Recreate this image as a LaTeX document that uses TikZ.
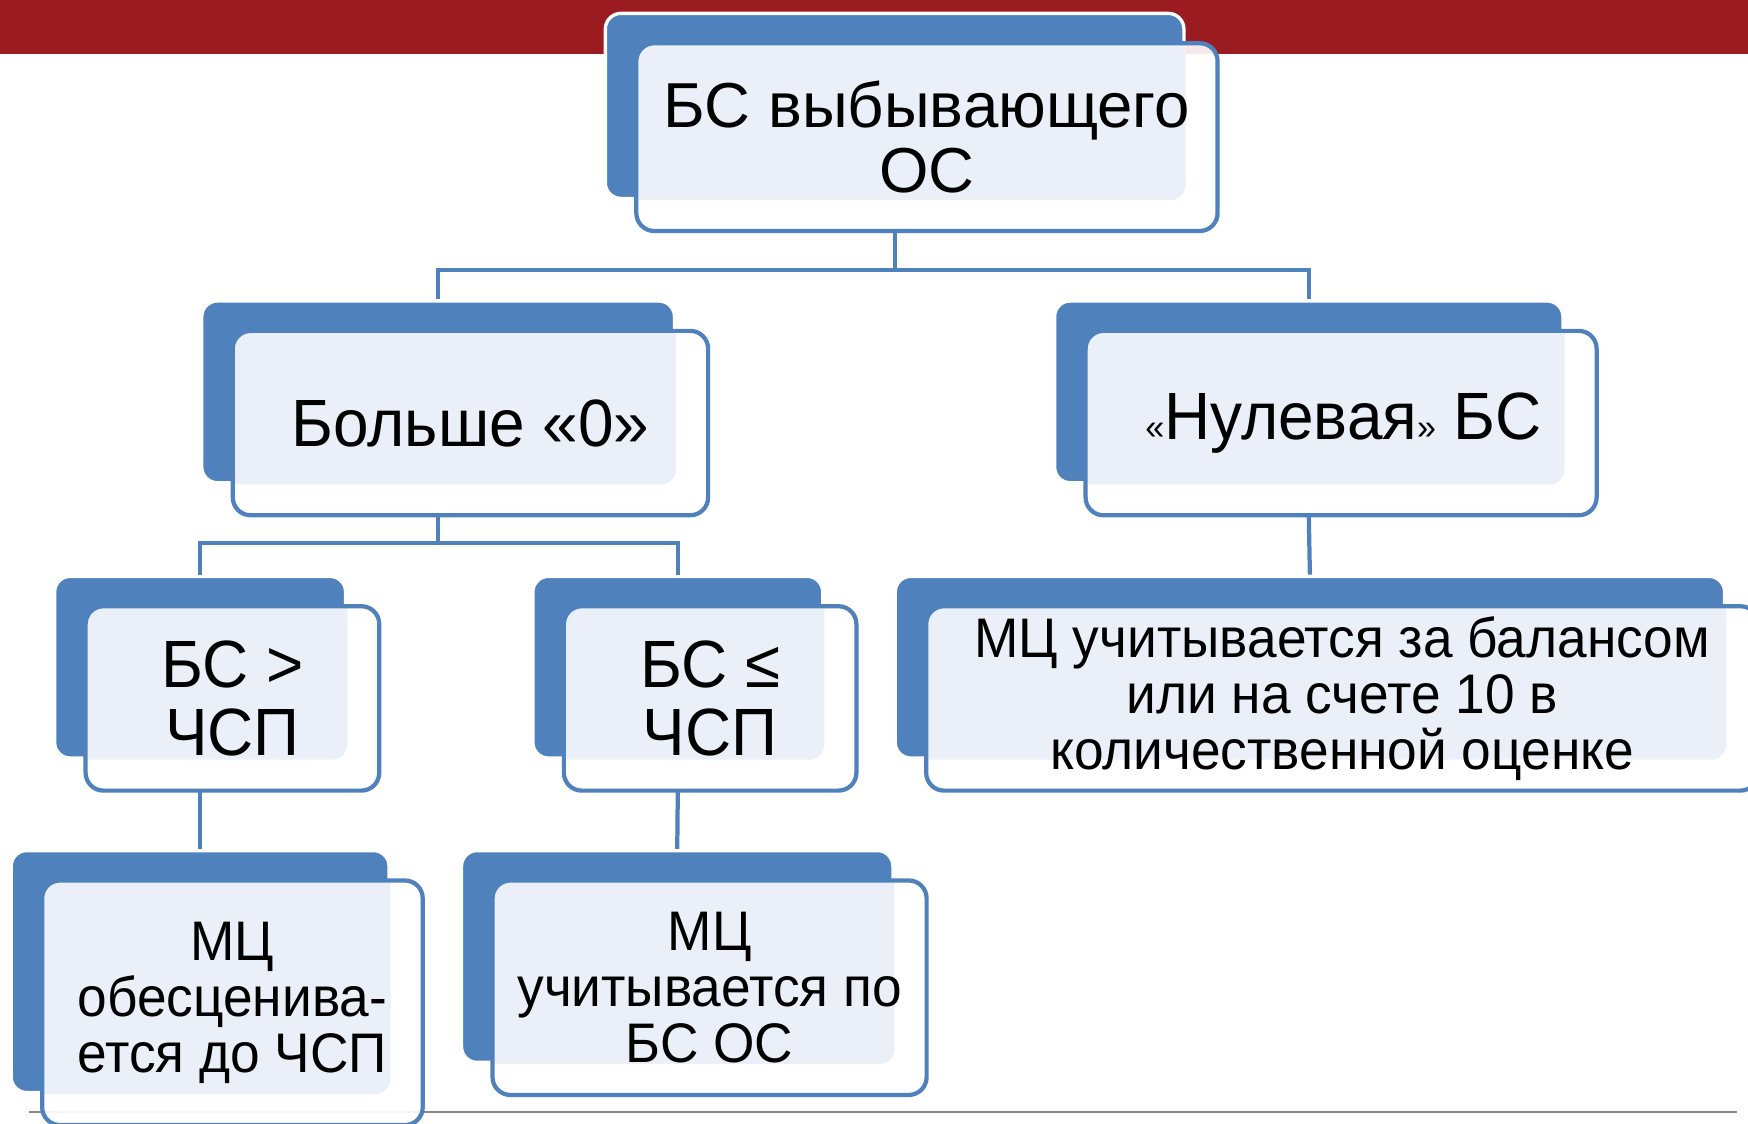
\documentclass[tikz,border=0pt]{standalone}
\usepackage{fontspec}
\setmainfont{Liberation Sans}[FakeStretch=0.955]
\newfontfamily\topfont{Liberation Sans}
\usetikzlibrary{calc}
\definecolor{sblue}{HTML}{4F81BD}
\definecolor{slight}{HTML}{EBF0F8}
\definecolor{sred}{HTML}{9A1C20}
\definecolor{sgray}{HTML}{888888}
\newcommand\smartnode[5]{%
  \node[bluebox, minimum width={#4-#2}, minimum height={#5-#3}] (#1b) at ({(#2+#4)/2},{(#3+#5)/2}) {};
  \node[outbox, minimum width={#4-#2+2}, minimum height={#5-#3+2}] (#1o) at ({(#2+#4)/2+29},{(#3+#5)/2+28}) {};
  \fill[white, fill opacity=0.9, rounded corners=16pt] (#1o.north west) rectangle (#1o.south east);
  \begin{scope}
    \clip[rounded corners=16pt] (#1o.north west) rectangle (#1o.south east);
    \fill[slight, rounded corners=14pt] (#1b.north west) rectangle (#1b.south east);
  \end{scope}
  \draw[sblue, line width=3.8pt, rounded corners=16pt] (#1o.north west) rectangle (#1o.south east);
}
\begin{document}
\begin{tikzpicture}[x=1pt,y=-1pt,
  bluebox/.style={rectangle, rounded corners=14pt, fill=sblue, draw=white, line width=3pt, inner sep=0pt},
  outbox/.style={rectangle, inner sep=0pt},
  conn/.style={draw=sblue, line width=3.8pt},
  lbl/.style={align=center, inner sep=0pt, text=black},
  big/.style={font=\topfont\fontsize{57}{58}\selectfont},
  mid/.style={font=\fontsize{60}{61}\selectfont},
  small/.style={font=\fontsize{50}{50}\selectfont},
]
\useasboundingbox (0,0) rectangle (1568,1008);
\begin{scope}
\clip (0,0) rectangle (1568,1008);
\fill[sred] (0,0) rectangle (1568,48);
\draw[sgray, line width=1.8pt] (26,997.5) -- (1558,997.5);

\smartnode{n1}{543}{12}{1062}{178}
\smartnode{n2}{181}{270}{605}{433}
\smartnode{n3}{946}{270}{1402}{433}
\smartnode{n4}{49}{517}{310}{680}
\smartnode{n5}{478}{517}{738}{680}
\smartnode{n6}{803}{517}{1547}{680}
\smartnode{n7}{10}{763}{349}{980}
\smartnode{n8}{414}{763}{801}{953}

\node[lbl, big] (t1) at (n1o.center) {БС выбывающего\\ОС};
\node[lbl, mid] (t2) at (n2o.center) {Больше «0»};
\node[lbl, mid] (t3) at ([xshift=2pt]n3o.center) {{\fontsize{32}{32}\selectfont«}Нулевая{\fontsize{32}{32}\selectfont»} БС};
\node[lbl, mid] (t4) at (n4o.center) {БС >\\ЧСП};
\node[lbl, mid] (t5) at (n5o.center) {БС ≤\\ЧСП};
\node[lbl, small] (t6) at (n6o.center) {МЦ учитывается за балансом\\или на счете 10 в\\количественной оценке};
\node[lbl, small] (t7) at (n7o.center) {МЦ\\обесценива-\\ется до ЧСП};
\node[lbl, small] (t8) at (n8o.center) {МЦ\\учитывается по\\БС ОС};

\coordinate (j1) at (0,242);
\coordinate (j2) at (0,487);
\draw[conn] (n1b.south |- n1o.south) -- (n1b.south |- j1) -| (n2b.north);
\draw[conn] (n1b.south |- j1) -| (n3b.north);
\draw[conn] (n2b.south |- n2o.south) -- (n2b.south |- j2) -| (n4b.north);
\draw[conn] (n2b.south |- j2) -| (n5b.north);
\draw[conn] (n3b.south |- n3o.south) -- (n6b.north);
\draw[conn] (n4b.south |- n4o.south) -- (n7b.north);
\draw[conn] (n5b.south |- n5o.south) -- (n8b.north);
\end{scope}
\end{tikzpicture}
\end{document}
